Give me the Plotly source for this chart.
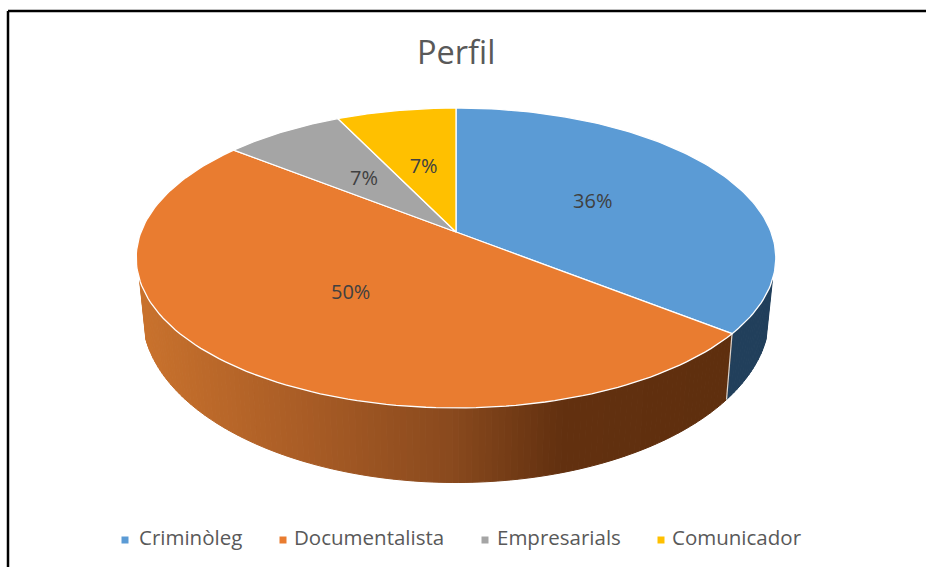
import numpy as np
import plotly.graph_objects as go

# ---- data ----
categories = ["Criminòleg", "Documentalista", "Empresarials", "Comunicador"]
values = [5, 7, 1, 1]
colors = ["#5B9BD5", "#E97C30", "#A5A5A5", "#FFC000"]
side_colors = ["#213F5B", None, None, None]

# ---- style / layout constants (pixels of the 926x567 page) ----
W, H = 926, 567
APEX_X, APEX_Y = 456, 232
RX, RY, PERSP = 315, 145.5, 0.173
BASE_Y, BASE_SX, BASE_SY = 286, 0.98, 1.117
SIDE_FROM, SIDE_TO = 108, 252
LEGEND_MARK_X = [125, 283, 485, 661]
LEGEND_TEXT_X = [139, 294, 497, 672]
LEGEND_Y = 540
LABEL_NUDGE_Y = 1
FONT = "Open Sans"
TEXT = "#595959"
ORANGE_STOPS_X = [140, 300, 450, 560, 730]
ORANGE_STOPS_RGB = [(201, 114, 45), (170, 93, 38), (138, 74, 30), (99, 49, 16), (95, 47, 14)]


def top(theta, r=1.0):
    t = np.radians(theta)
    X, Y = r * np.sin(t), -r * np.cos(t)
    w = 1 - PERSP * Y
    return APEX_X + RX * X / w, APEX_Y + RY * Y / w


def base(theta):
    x, y = top(theta)
    return APEX_X + (x - APEX_X) * BASE_SX, BASE_Y + (y - APEX_Y) * BASE_SY


def orange_at(x):
    rgb = [np.interp(x, ORANGE_STOPS_X, [s[i] for s in ORANGE_STOPS_RGB]) for i in range(3)]
    return "rgb(%d,%d,%d)" % tuple(rgb)


share = np.array(values, dtype=float) / sum(values)
edges = np.concatenate([[0], np.cumsum(share) * 360])

fig = go.Figure()

# side wall, built slice by slice
for i, name in enumerate(categories):
    a0, a1 = max(edges[i], SIDE_FROM), min(edges[i + 1], SIDE_TO)
    if a1 <= a0:
        continue
    steps = np.arange(a0, a1, 1.0).tolist() + [a1]
    for s0, s1 in zip(steps[:-1], steps[1:]):
        xa, ya = top(s0)
        xb, yb = top(s1)
        xc, yc = base(s1)
        xd, yd = base(s0)
        col = side_colors[i] or orange_at((xa + xb) / 2)
        fig.add_trace(go.Scatter(
            x=[xa, xb, xc, xd, xa], y=[ya, yb, yc, yd, ya], mode="lines",
            fill="toself", fillcolor=col, line=dict(color=col, width=1),
            hoverinfo="skip", showlegend=False))

# seam between the two wall colours
sx0, sy0 = top(edges[1])
sx1, sy1 = base(edges[1])
fig.add_trace(go.Scatter(x=[sx0, sx1], y=[sy0, sy1], mode="lines",
                         line=dict(color="#D9D4CF", width=1.2),
                         hoverinfo="skip", showlegend=False))

# top face
for i, name in enumerate(categories):
    arc = np.linspace(edges[i], edges[i + 1], 120)
    ax, ay = top(arc)
    fig.add_trace(go.Scatter(
        x=np.concatenate([[APEX_X], ax, [APEX_X]]),
        y=np.concatenate([[APEX_Y], ay, [APEX_Y]]),
        mode="lines", fill="toself", fillcolor=colors[i],
        line=dict(color="white", width=1.3), name=name,
        hoverinfo="name", showlegend=False))

# percentage labels at half radius of each slice
mids = (edges[:-1] + edges[1:]) / 2
lx, ly = top(mids, 0.5)
fig.add_trace(go.Scatter(
    x=lx, y=ly + LABEL_NUDGE_Y, mode="text",
    text=["%d%%" % round(s * 100) for s in share],
    textposition="middle center",
    textfont=dict(family=FONT, size=20, color="#404040"),
    hoverinfo="skip", showlegend=False))

# legend row
fig.add_trace(go.Scatter(
    x=LEGEND_MARK_X, y=[LEGEND_Y] * 4, mode="markers",
    marker=dict(symbol="square", size=7, color=colors),
    hoverinfo="skip", showlegend=False))
fig.add_trace(go.Scatter(
    x=LEGEND_TEXT_X, y=[LEGEND_Y] * 4, mode="text",
    text=categories, textposition="middle right",
    textfont=dict(family=FONT, size=20.5, color=TEXT),
    hoverinfo="skip", showlegend=False))

# frame cropped by the screenshot: left and top edges only
frame = [dict(type="line", xref="x", yref="y", x0=8, y0=H, x1=8, y1=11,
              line=dict(color="black", width=2.5)),
         dict(type="line", xref="x", yref="y", x0=8, y0=11, x1=W, y1=11,
              line=dict(color="black", width=2.5))]

fig.update_layout(
    width=W, height=H, margin=dict(l=0, r=0, t=0, b=0, pad=0),
    paper_bgcolor="white", plot_bgcolor="white", showlegend=False,
    xaxis=dict(range=[0, W], visible=False, fixedrange=True),
    yaxis=dict(range=[H, 0], visible=False, fixedrange=True),
    shapes=frame,
    annotations=[dict(text="Perfil", x=456, y=51, xref="x", yref="y", showarrow=False,
                      xanchor="center", yanchor="middle",
                      font=dict(family=FONT, size=32.5, color=TEXT))],
)
fig.write_html("out.html", config={"displayModeBar": False},
               post_script="document.body.style.margin='0';document.body.style.overflow='hidden';")
